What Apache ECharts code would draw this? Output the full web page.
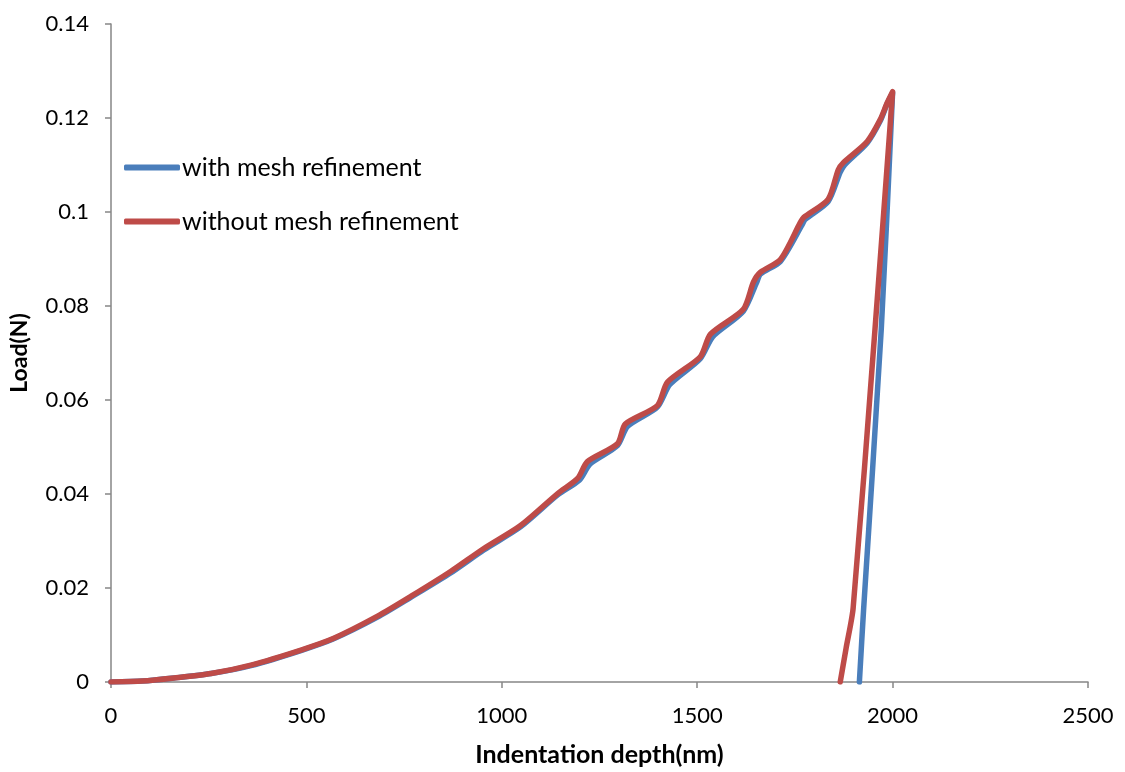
<!DOCTYPE html>
<html>
<head>
<meta charset="utf-8">
<script src="https://cdn.jsdelivr.net/npm/echarts@6/dist/echarts.min.js"></script>
<style>
html,body{margin:0;padding:0;background:#fff;}
#chart{width:1125px;height:772px;}
</style>
</head>
<body>
<div id="chart"></div>
<script>
var seriesNames = ['with mesh refinement', 'without mesh refinement'];

var depthBlue = [0, 80, 161, 256, 358, 486, 570, 682, 767, 869, 954, 1048, 1143, 1199, 1226, 1296, 1322, 1398, 1430, 1508, 1540, 1618, 1652, 1662, 1713, 1768, 1776, 1835, 1866, 1878, 1935, 1968, 1986, 2000, 1971, 1926, 1915];
var loadBlue  = [0, 0.0002, 0.00085, 0.0018, 0.0035, 0.0067, 0.0092, 0.0138, 0.018, 0.0232, 0.0281, 0.0330, 0.0398, 0.0430, 0.0464, 0.0503, 0.0544, 0.0585, 0.0633, 0.0688, 0.0735, 0.0789, 0.0850, 0.0868, 0.0895, 0.0972, 0.0984, 0.1022, 0.1085, 0.1101, 0.1147, 0.1193, 0.1230, 0.1254, 0.0751, 0.0157, 0];

var depthRed = [0, 80, 161, 256, 358, 486, 570, 682, 767, 869, 954, 1048, 1143, 1194, 1219, 1296, 1316, 1398, 1424, 1508, 1534, 1618, 1644, 1662, 1713, 1764, 1772, 1835, 1861, 1874, 1935, 1968, 1986, 2000, 1955, 1899, 1881, 1866];
var loadRed  = [0, 0.0002, 0.00085, 0.0018, 0.0036, 0.0068, 0.0093, 0.0140, 0.0182, 0.0235, 0.0284, 0.0333, 0.0401, 0.0433, 0.0469, 0.0507, 0.0549, 0.0588, 0.0638, 0.0692, 0.0740, 0.0793, 0.0851, 0.0872, 0.0899, 0.0978, 0.0988, 0.1027, 0.1090, 0.1105, 0.1150, 0.1196, 0.1232, 0.1256, 0.0751, 0.0157, 0.0072, 0];

var xMin = 0, xMax = 2500, xStep = 500;
var yMin = 0, yMax = 0.14, yStep = 0.02;

function pairs(xs, ys) { return xs.map(function (x, i) { return [x, ys[i]]; }); }

var font = 'Lato, "Open Sans", sans-serif';
var chart = echarts.init(document.getElementById('chart'), null, {renderer: 'canvas'});
chart.setOption({
  animation: false,
  backgroundColor: '#ffffff',
  grid: {left: 110, right: 37, top: 24, bottom: 88, containLabel: false},
  legend: {
    orient: 'vertical',
    left: 124,
    top: 155,
    padding: 0,
    itemGap: 29,
    itemWidth: 56,
    itemHeight: 6,
    icon: 'roundRect',
    textStyle: {fontFamily: font, fontSize: 25, color: '#000', padding: [0, 0, 0, -3]},
    data: seriesNames
  },
  xAxis: {
    type: 'value',
    min: xMin, max: xMax, interval: xStep,
    name: 'Indentation depth(nm)',
    nameLocation: 'middle',
    nameGap: 60,
    nameTextStyle: {fontFamily: font, fontSize: 25, fontWeight: 'bold', color: '#000'},
    axisLine: {show: true, lineStyle: {color: '#868686', width: 1.5}},
    axisTick: {show: true, length: 6, inside: false, lineStyle: {color: '#868686', width: 1.5}},
    axisLabel: {fontFamily: font, fontSize: 22, color: '#000', margin: 23, formatter: function (v) { return String(v); }},
    splitLine: {show: false}
  },
  yAxis: {
    type: 'value',
    min: yMin, max: yMax, interval: yStep,
    name: 'Load(N)',
    nameLocation: 'middle',
    nameGap: 80,
    nameRotate: 90,
    nameTextStyle: {fontFamily: font, fontSize: 23, fontWeight: 'bold', color: '#000'},
    axisLine: {show: true, lineStyle: {color: '#868686', width: 1.5}},
    axisTick: {show: true, length: 6, inside: false, lineStyle: {color: '#868686', width: 1.5}},
    axisLabel: {fontFamily: font, fontSize: 22, color: '#000', margin: 22, formatter: function (v) { return String(Math.round(v * 100) / 100); }},
    splitLine: {show: false}
  },
  series: [
    {
      name: seriesNames[0],
      type: 'line',
      data: pairs(depthBlue, loadBlue),
      showSymbol: false,
      symbol: 'none',
      smooth: 0.25,
      lineStyle: {color: '#4A7EBB', width: 5.5, cap: 'round', join: 'round'},
      itemStyle: {color: '#4A7EBB'}
    },
    {
      name: seriesNames[1],
      type: 'line',
      data: pairs(depthRed, loadRed),
      showSymbol: false,
      symbol: 'none',
      smooth: 0.25,
      lineStyle: {color: '#BE4B48', width: 5.5, cap: 'round', join: 'round'},
      itemStyle: {color: '#BE4B48'}
    }
  ]
});
</script>
</body>
</html>
